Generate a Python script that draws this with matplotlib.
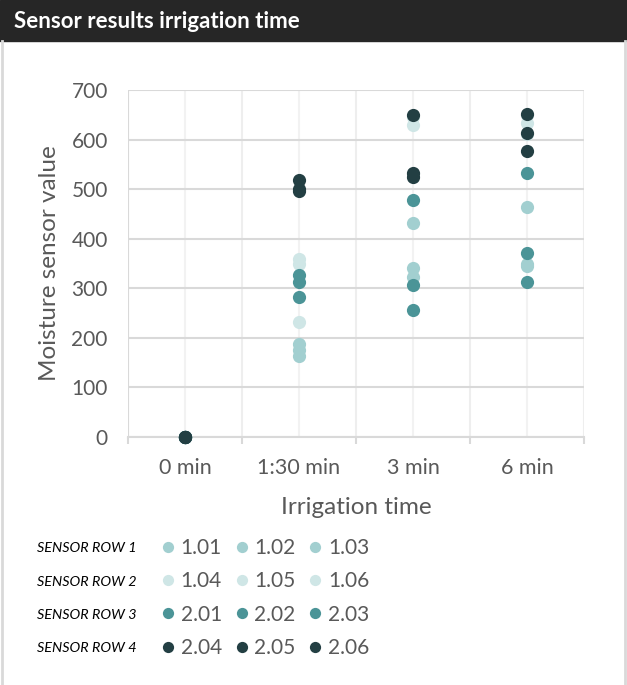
import matplotlib.pyplot as plt
from matplotlib.patches import Rectangle
from matplotlib.lines import Line2D

plt.rcParams['font.family'] = ['Lato', 'DejaVu Sans']

# categories on the x axis
times = ['0 min', '1:30 min', '3 min', '6 min']

# sensor names, one series per sensor
sensors = ['1.01', '1.02', '1.03', '1.04', '1.05', '1.06',
           '2.01', '2.02', '2.03', '2.04', '2.05', '2.06']
row_names = ['SENSOR ROW 1', 'SENSOR ROW 2', 'SENSOR ROW 3', 'SENSOR ROW 4']

# readings per sensor (0 min, 1:30 min, 3 min, 6 min)
s101 = [0, 187, 432, 463]
s102 = [0, 175, 340, 348]
s103 = [0, 163, 323, 345]
s104 = [0, 360, 629, 634]
s105 = [0, 350, 646, 650]
s106 = [0, 231, 530, 612]
s201 = [0, 327, 478, 533]
s202 = [0, 312, 307, 372]
s203 = [0, 283, 256, 313]
s204 = [0, 518, 649, 651]
s205 = [0, 500, 532, 614]
s206 = [0, 497, 524, 577]
values = [s101, s102, s103, s104, s105, s106, s201, s202, s203, s204, s205, s206]

row_colors = ['#A2CFD0', '#CFE6E6', '#4B9497', '#233F43']

W, H = 627, 685
fig = plt.figure(figsize=(W / 100, H / 100), dpi=100)

# header bar and card border
fig.patches.append(Rectangle((0, 1 - 41 / H), 1, 41 / H, transform=fig.transFigure,
                             color='#262626', zorder=0))
fig.add_artist(Line2D([2 / W, 2 / W], [0, 1 - 41 / H], transform=fig.transFigure,
                      color='#D9D9D9', lw=2))
fig.add_artist(Line2D([625 / W, 625 / W], [0, 1 - 41 / H], transform=fig.transFigure,
                      color='#D9D9D9', lw=2))
fig.text(14 / W, 1 - 21 / H, 'Sensor results irrigation time', color='white',
         fontsize=16, fontweight='bold', va='center', ha='left')

ax = fig.add_axes([128 / W, 1 - 437 / H, (584 - 128) / W, (437 - 90) / H])
xs = range(1, len(times) + 1)
handles = []
for i, (name, vals) in enumerate(zip(sensors, values)):
    h, = ax.plot(xs, vals, 'o', ls='none', color=row_colors[i // 3], ms=9.5,
                 mec='none', label=name, zorder=3, clip_on=False)
    handles.append(h)

ax.set_xlim(0.5, 4.5)
ax.set_ylim(0, 700)
ax.set_yticks(range(0, 701, 100))
ax.set_xticks(list(xs))
ax.set_xticklabels(times)
ax.set_xticks([0.5, 1.5, 2.5, 3.5, 4.5], minor=True)
for s in ['top', 'right', 'left']:
    ax.spines[s].set_visible(False)
ax.spines['bottom'].set_color('#D9D9D9')
ax.spines['bottom'].set_linewidth(1.5)
ax.grid(axis='y', color='#D9D9D9', lw=1.5, zorder=0)
for xv in [0.5, 1, 1.5, 2, 2.5, 3, 3.5, 4, 4.5]:
    ax.axvline(xv, color='#EEEEEE' if xv % 1 else '#F2F2F2', lw=1.5, zorder=0)
ax.axvline(0.5, color='#D9D9D9', lw=1.5, zorder=1)
ax.set_axisbelow(True)
ax.tick_params(axis='y', length=0, pad=14.5, labelsize=15, labelcolor='#595959')
ax.tick_params(axis='x', which='major', length=0, pad=15, labelsize=15.5, labelcolor='#595959')
ax.tick_params(axis='x', which='minor', length=5, width=1.5, color='#D9D9D9')
ax.set_ylabel('Moisture sensor value', fontsize=17.5, color='#595959', labelpad=8)
ax.set_xlabel('Irrigation time', fontsize=17.5, color='#595959', labelpad=14)

# legend: three columns of sensors, one row per sensor row
order = [0, 3, 6, 9, 1, 4, 7, 10, 2, 5, 8, 11]
leg = fig.legend([handles[k] for k in order], [sensors[k] for k in order],
                 ncol=3, loc='upper left', bbox_to_anchor=(163 / W, 1 - 538 / H),
                 frameon=False, fontsize=15, labelcolor='#595959', markerscale=0.85,
                 handlelength=0.5, handletextpad=0.35, columnspacing=0.7,
                 labelspacing=0.64, borderpad=0, borderaxespad=0)
for j, rn in enumerate(row_names):
    fig.text(37 / W, 1 - (548 + 33.5 * j) / H, rn, fontsize=10.4, style='italic',
             color='black', va='center', ha='left')

fig.savefig('out.png', dpi=100, facecolor='white')
